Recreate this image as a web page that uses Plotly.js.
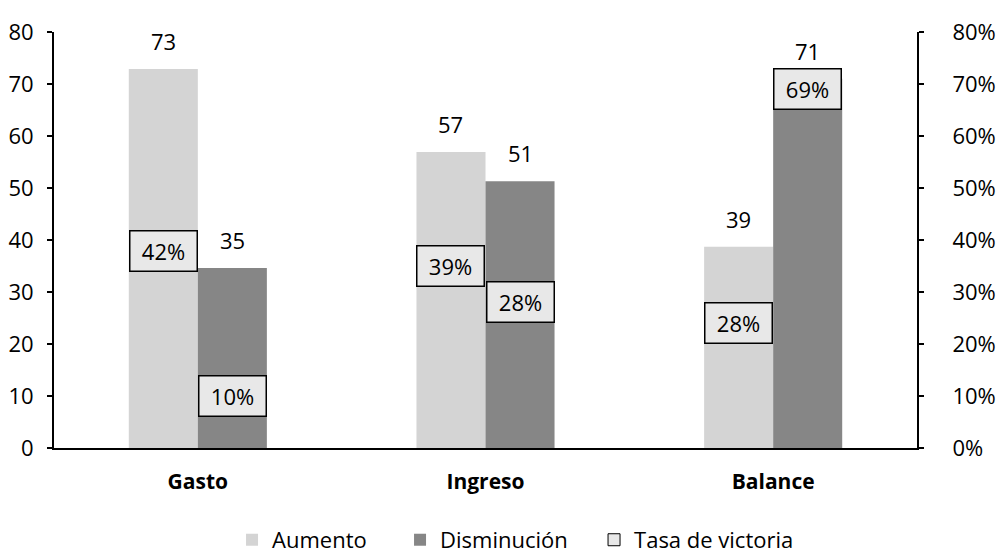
<!DOCTYPE html>
<html>
<head>
<meta charset="utf-8">
<script src="https://cdn.plot.ly/plotly-3.0.1.min.js"></script>
<style>html,body{margin:0;padding:0;background:#fff}#chart{width:997px;height:554px}</style>
</head>
<body>
<div id="chart"></div>
<script>
const categories = ['Gasto', 'Ingreso', 'Balance'];
const aumento = [72.9, 56.9, 38.7];
const disminucion = [34.6, 51.3, 71.0];
const tasaAumento = [42, 39, 28];
const tasaDisminucion = [10, 28, 69];
const leftTicks = [0, 10, 20, 30, 40, 50, 60, 70, 80];
const rightTicks = [0, 10, 20, 30, 40, 50, 60, 70, 80];

const FONT = 'Open Sans, Noto Sans, sans-serif';
const FS = 22;
const OFF = 0.12;

const traces = [
  {type: 'bar', name: 'Aumento', x: categories, y: aumento, legendwidth: 123,
   marker: {color: '#d4d4d4'}, hoverinfo: 'skip'},
  {type: 'bar', name: 'Disminución', x: categories, y: disminucion, legendwidth: 149,
   marker: {color: '#868686'}, hoverinfo: 'skip'},
  {type: 'bar', name: 'Tasa de victoria', x: categories, y: categories.map(() => null), legendwidth: 165,
   yaxis: 'y2', marker: {color: '#e8e8e8', line: {color: '#000', width: 1}}, hoverinfo: 'skip'}
];

const annotations = [];
categories.forEach((c, i) => {
  annotations.push({x: i - OFF, y: aumento[i], xref: 'x', yref: 'y', text: String(Math.round(aumento[i])),
    showarrow: false, yanchor: 'bottom', yshift: 11, font: {family: FONT, size: FS, color: '#000'}});
  annotations.push({x: i + OFF, y: disminucion[i], xref: 'x', yref: 'y', text: String(Math.round(disminucion[i])),
    showarrow: false, yanchor: 'bottom', yshift: 11, font: {family: FONT, size: FS, color: '#000'}});
});
categories.forEach((c, i) => {
  annotations.push({x: i - OFF, y: tasaAumento[i], xref: 'x', yref: 'y2', text: tasaAumento[i] + '%',
    showarrow: false, yanchor: 'top', width: 64, height: 37, borderpad: 1, borderwidth: 1.5,
    bordercolor: '#000', bgcolor: '#e8e8e8', font: {family: FONT, size: FS, color: '#000'}});
  annotations.push({x: i + OFF, y: tasaDisminucion[i], xref: 'x', yref: 'y2', text: tasaDisminucion[i] + '%',
    showarrow: false, yanchor: 'middle', width: 64, height: 37, borderpad: 1, borderwidth: 1.5,
    bordercolor: '#000', bgcolor: '#e8e8e8', font: {family: FONT, size: FS, color: '#000'}});
});

const layout = {
  width: 997, height: 554,
  margin: {l: 54, r: 80, t: 32, b: 106, autoexpand: false},
  paper_bgcolor: '#fff', plot_bgcolor: '#fff',
  font: {family: FONT, size: FS, color: '#000'},
  barmode: 'group', bargap: 0.52, bargroupgap: 0,
  showlegend: true,
  legend: {orientation: 'h', x: 0.2063, xanchor: 'left', y: -0.221, yanchor: 'middle',
    font: {family: FONT, size: FS, color: '#000'}, traceorder: 'normal'},
  xaxis: {type: 'category', showline: true, linecolor: '#000', linewidth: 2,
    ticks: '', showgrid: false, zeroline: false, fixedrange: true,
    tickfont: {family: FONT, size: 21, color: '#000', weight: 'bold'}, ticklabelstandoff: 14},
  yaxis: {range: [0, 80], tickvals: leftTicks, ticktext: leftTicks.map(String),
    showline: true, linecolor: '#000', linewidth: 2, ticks: 'outside', ticklen: 5, tickwidth: 2, tickcolor: '#000',
    showgrid: false, zeroline: false, ticklabelstandoff: 9, fixedrange: true},
  yaxis2: {range: [0, 80], overlaying: 'y', side: 'right', tickvals: rightTicks, ticktext: rightTicks.map(v => v + '%'),
    showline: true, linecolor: '#000', linewidth: 2, ticks: 'outside', ticklen: 5, tickwidth: 2, tickcolor: '#000',
    showgrid: false, zeroline: false, ticklabelstandoff: 24, fixedrange: true},
  annotations: annotations
};

Plotly.newPlot('chart', traces, layout, {displayModeBar: false, staticPlot: true});
</script>
</body>
</html>
